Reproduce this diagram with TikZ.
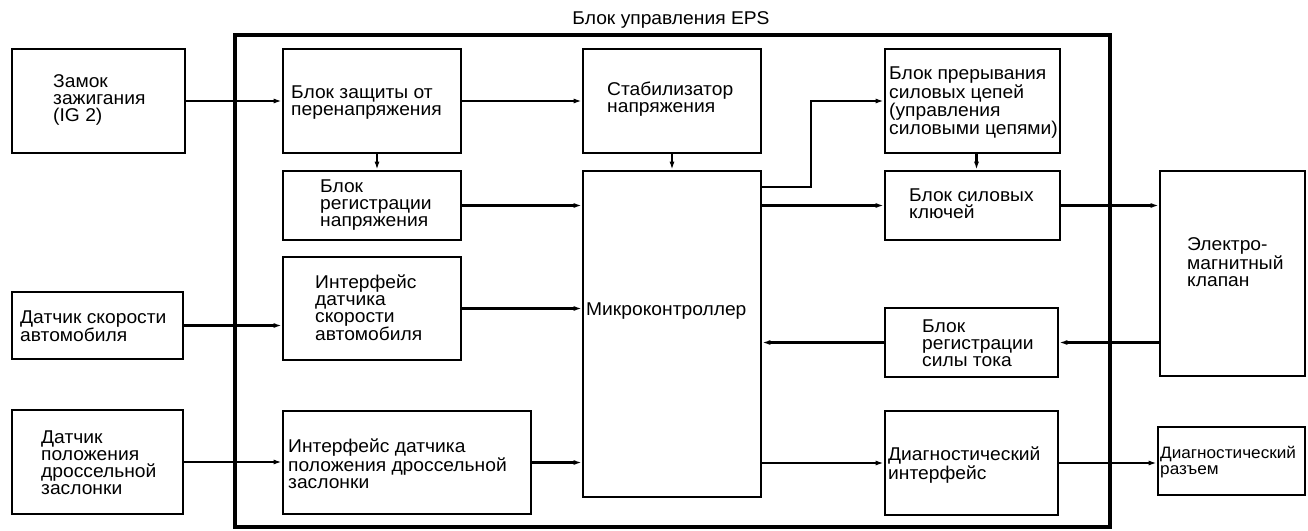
\documentclass[tikz,border=0pt]{standalone}
\usepackage{fontspec}
\setmainfont{Liberation Sans}[FakeStretch=1.04]
\usetikzlibrary{arrows.meta,calc}
\tikzset{
  box/.style={draw, line width=2.6pt, rectangle, inner sep=0pt},
  outerbox/.style={draw, line width=3.6pt, rectangle, inner sep=0pt},
  txt/.style={anchor=west, align=left, inner sep=0pt, font=\fontsize{18.5}{17}\selectfont},
  smalltxt/.style={anchor=west, align=left, inner sep=0pt, font=\fontsize{16.5}{15.5}\selectfont},
  arr/.style={line width=2.2pt, -{Latex[length=8pt,width=5pt]}},
}
\begin{document}
\begin{tikzpicture}[x=1pt,y=-1pt]
\useasboundingbox (0,0) rectangle (1308,530);
% outer control unit
\node[outerbox, minimum width=875, minimum height=492] (eps) at (672.5,281) {};
\node[txt, anchor=center] (epsT) at (671,20) {Блок управления EPS};
% boxes
\node[box, minimum width=173, minimum height=104] (ign) at (98.5,101) {};
\node[box, minimum width=178, minimum height=104] (prot) at (372,101) {};
\node[box, minimum width=178, minimum height=69] (vreg) at (372,205.5) {};
\node[box, minimum width=178, minimum height=103] (spdI) at (372,308.5) {};
\node[box, minimum width=248, minimum height=103] (thrI) at (407,462.5) {};
\node[box, minimum width=178, minimum height=104] (stab) at (672,101) {};
\node[box, minimum width=178, minimum height=326] (mc) at (672,334) {};
\node[box, minimum width=175, minimum height=104] (intr) at (972.5,101) {};
\node[box, minimum width=175, minimum height=69] (keys) at (972.5,205.5) {};
\node[box, minimum width=173, minimum height=69] (creg) at (971.5,342.5) {};
\node[box, minimum width=173, minimum height=104] (diag) at (971.5,463) {};
\node[box, minimum width=145, minimum height=205] (valve) at (1232.5,273.5) {};
\node[box, minimum width=147, minimum height=68] (conn) at (1231.5,461) {};
\node[box, minimum width=171, minimum height=67] (spdS) at (97.5,325.5) {};
\node[box, minimum width=171, minimum height=104] (thrS) at (97.5,462) {};
% texts
\node[txt] (ignT) at (53,100) {Замок\\зажигания\\(IG 2)};
\node[txt] (protT) at (291,103) {Блок защиты от\\перенапряжения};
\node[txt] (vregT) at (320,205) {Блок\\регистрации\\напряжения};
\node[txt] (spdIT) at (315,308) {Интерфейс\\датчика\\скорости\\автомобиля};
\node[txt] (thrIT) at (288,464) {Интерфейс датчика\\положения дроссельной\\заслонки};
\node[txt] (stabT) at (607,99) {Стабилизатор\\напряжения};
\node[txt] (mcT) at (586,311) {Микроконтроллер};
\node[txt] (intrT) at (889,103) {Блок прерывания\\силовых цепей\\(управления\\силовыми цепями)};
\node[txt] (keysT) at (909,204) {Блок силовых\\ключей};
\node[txt] (cregT) at (922,343) {Блок\\регистрации\\силы тока};
\node[txt] (diagT) at (888,465) {Диагностический\\интерфейс};
\node[txt] (valveT) at (1187,262) {Электро-\\магнитный\\клапан};
\node[smalltxt] (connT) at (1160,462) {Диагностический\\разъем};
\node[txt] (spdST) at (20,326) {Датчик скорости\\автомобиля};
\node[txt] (thrST) at (41,463) {Датчик\\положения\\дроссельной\\заслонки};
% connectors
\draw[arr] (ign.east) -- (prot.west);
\draw[arr] (prot.east) -- (stab.west);
\draw[arr] ([xshift=5pt]prot.south) -- ([xshift=5pt]vreg.north);
\draw[arr] (vreg.east) -- (vreg.east -| mc.west);
\draw[arr] (stab.south) -- (mc.north);
\draw[arr] ($(mc.north east)+(0,17)$) -- ++(49,0) |- (intr.west);
\draw[arr] (mc.east |- keys.west) -- (keys.west);
\draw[arr] ([xshift=4pt]intr.south) -- ([xshift=4pt]keys.north);
\draw[arr] (keys.east) -- (keys.east -| valve.west);
\draw[arr] (valve.west |- creg.east) -- (creg.east);
\draw[arr] (creg.west) -- (creg.west -| mc.east);
\draw[arr] (spdS.east) -- (spdS.east -| spdI.west);
\draw[arr] (spdI.east) -- (spdI.east -| mc.west);
\draw[arr] (thrS.east) -- (thrS.east -| thrI.west);
\draw[arr] (thrI.east) -- (thrI.east -| mc.west);
\draw[arr] (mc.east |- diag.west) -- (diag.west);
\draw[arr] (diag.east) -- (diag.east -| conn.west);
\end{tikzpicture}
\end{document}
